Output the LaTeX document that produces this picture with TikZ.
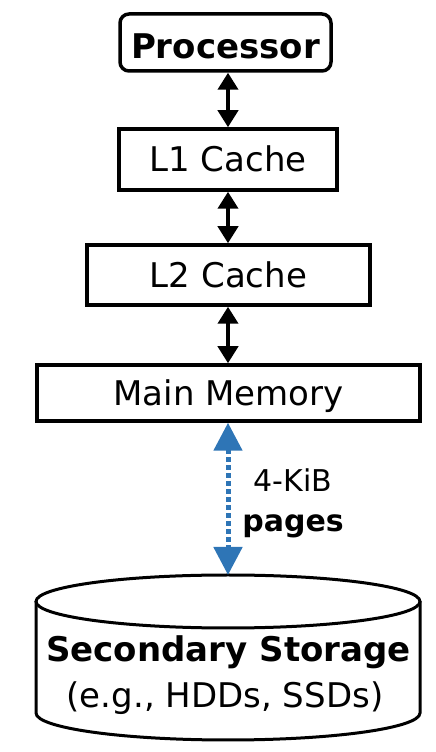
\documentclass[tikz,border=0pt]{standalone}
\usepackage{fontspec}
\setmainfont{DejaVu Sans}
\usetikzlibrary{arrows.meta}
\definecolor{pageblue}{RGB}{46,117,182}
\tikzset{
  box/.style={draw=black, line width=3.5pt, rectangle, inner sep=0pt,
    text height=25pt, text depth=0pt, font=\fontsize{34}{40}\selectfont},
  blk/.style={line width=4pt, {Triangle[length=17pt,width=20pt]}-{Triangle[length=17pt,width=20pt]}},
  blu/.style={pageblue, line width=5pt, dash pattern=on 5pt off 3pt,
    {Triangle[length=28pt,width=28pt]}-{Triangle[length=28pt,width=28pt]}},
  lbl/.style={anchor=base, inner sep=0pt},
}
\begin{document}
\begin{tikzpicture}[x=1pt,y=1pt]
\useasboundingbox (0,0) rectangle (436,752);
% boxes
\node[box, rounded corners=9pt, minimum width=211pt, minimum height=57pt,
      text height=32pt, font=\fontsize{34}{40}\selectfont\bfseries] (proc) at (225.5,709.5) {Processor};
\node[box, minimum width=218pt, minimum height=61pt] (l1) at (228,592.5) {L1 Cache};
\node[box, minimum width=283pt, minimum height=60pt] (l2) at (228.5,477) {L2 Cache};
\node[box, minimum width=383pt, minimum height=56pt] (mm) at (228.5,359) {Main Memory};
% cylinder
\draw[line width=3pt] (228,150.5) ellipse [x radius=192pt, y radius=26.5pt];
\draw[line width=3pt] (36,150.5) -- (36,39) arc [start angle=180, end angle=360, x radius=192pt, y radius=27pt] -- (420,150.5);
\coordinate (cyltop) at (228,177);
\node[lbl, font=\fontsize{34}{40}\selectfont\bfseries] (sec) at (228.5,90) {Secondary Storage};
\node[lbl, font=\fontsize{34}{40}\selectfont] (eg) at (225,44) {(e.g., HDDs, SSDs)};
% arrows
\draw[blk] (proc.south -| l1.north) -- (l1.north);
\draw[blk] (l1.south) -- (l1.south |- l2.north);
\draw[blk] (l1.south |- l2.south) -- (l1.south |- mm.north);
\draw[blu] (l1.south |- mm.south) -- (cyltop);
% label
\node[lbl, font=\fontsize{30}{36}\selectfont] (kib) at (293,260) {4-KiB};
\node[lbl, font=\fontsize{30}{36}\selectfont\bfseries] (pages) at (293,220) {pages};
\end{tikzpicture}
\end{document}
